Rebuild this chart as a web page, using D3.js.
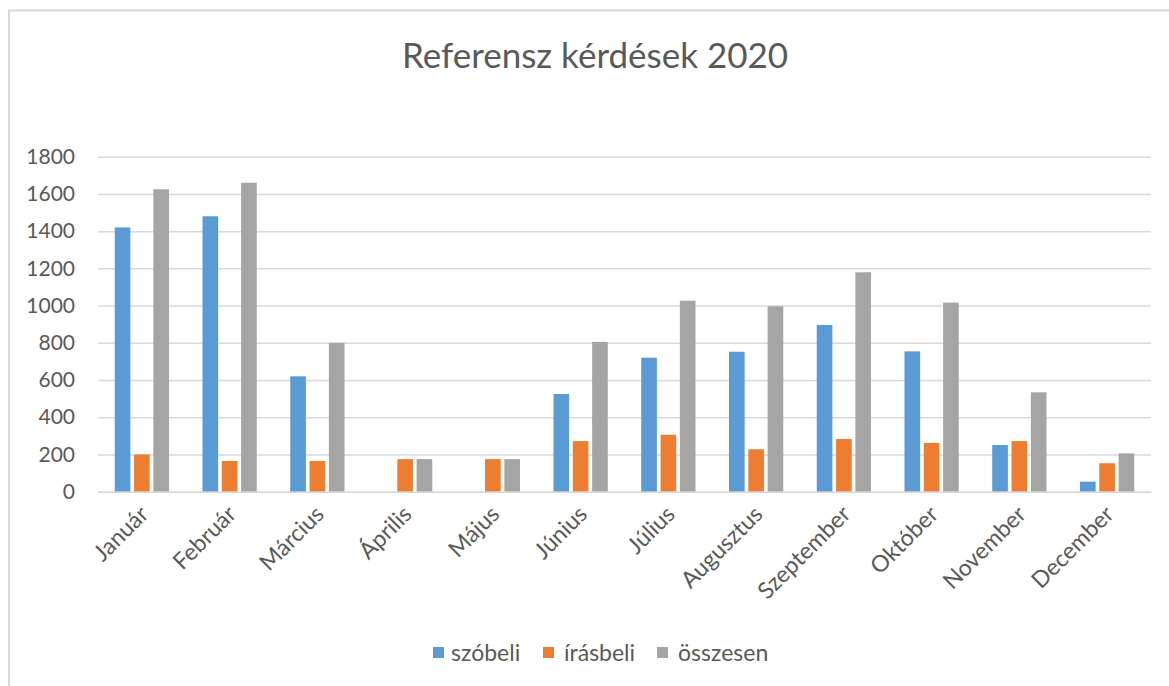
<!DOCTYPE html>
<html><head><meta charset="utf-8">
<script src="https://cdn.jsdelivr.net/npm/d3@7"></script>
<style>body{margin:0;background:#fff}svg{display:block}text{font-family:Lato,"Open Sans",sans-serif;fill:#595959}</style>
</head><body>
<svg id="c" width="1169" height="686"></svg>
<script>
const title = "Referensz kérdések 2020";
const months = ["Január","Február","Március","Április","Május","Június","Július","Augusztus","Szeptember","Október","November","December"];
const seriesNames = ["szóbeli","írásbeli","összesen"];
const szobeli   = [1420,1480,620,0,0,525,720,752,896,754,251,54];
const irasbeli  = [200,165,165,175,175,272,306,228,283,262,272,153];
const osszesen  = [1625,1660,800,175,175,805,1026,996,1179,1016,534,206];
const yTicks = [0,200,400,600,800,1000,1200,1400,1600,1800];
const colors = ["#5B9BD5","#ED7D31","#A5A5A5"];

const seriesVals = [szobeli, irasbeli, osszesen];
const svg = d3.select("#c");
svg.append("rect").attr("x",9).attr("y",10.5).attr("width",1200).attr("height",700)
  .attr("fill","none").attr("stroke","#D9D9D9").attr("stroke-width",2);

const L = 98, R = 1151, T = 156.7, B = 491.7;
const x0 = d3.scaleBand().domain(months).range([L,R]).paddingInner(0).paddingOuter(0);
const x1 = d3.scaleBand().domain(seriesNames).range([15, x0.bandwidth()-15]).paddingInner(0.19).paddingOuter(0.09);
const y = d3.scaleLinear().domain([0,1800]).range([B,T]);

svg.append("text").attr("x",595).attr("y",68).attr("text-anchor","middle")
  .style("font-size","35px").text(title);

const yAxis = d3.axisLeft(y).tickValues(yTicks).tickFormat(d3.format("d")).tickSize(-(R-L)).tickPadding(23);
const gy = svg.append("g").attr("transform",`translate(${L},0)`).call(yAxis);
gy.select(".domain").remove();
gy.selectAll(".tick line").attr("stroke","#D9D9D9").attr("stroke-width",1.5);
gy.selectAll(".tick text").style("font-size","21px").style("fill","#595959").attr("font-family","Lato");

const groups = svg.append("g").selectAll("g").data(months).join("g")
  .attr("transform", d => `translate(${x0(d)},0)`);
groups.selectAll("rect").data((m,i) => seriesNames.map((s,j)=>({s, v: seriesVals[j][i], j})))
  .join("rect")
  .attr("x", d => x1(d.s)).attr("width", x1.bandwidth())
  .attr("y", d => y(d.v)).attr("height", d => B - y(d.v))
  .attr("fill", d => colors[d.j]);

const xAxis = d3.axisBottom(x0).tickSize(0).tickPadding(0);
const gx = svg.append("g").attr("transform",`translate(0,${B})`).call(xAxis);
gx.select(".domain").attr("stroke","#D9D9D9").attr("stroke-width",1.5);
gx.selectAll(".tick text").style("font-size","23px").style("fill","#595959")
  .attr("text-anchor","end").attr("dy","0").attr("transform","translate(8,24) rotate(-45)");

const leg = svg.append("g");
const legX = [433, 543, 657];
seriesNames.forEach((s,i)=>{
  leg.append("rect").attr("x",legX[i]).attr("y",647).attr("width",11).attr("height",11).attr("fill",colors[i]);
  leg.append("text").attr("x",legX[i]+(i===0?18:21)).attr("y",661).style("font-size","23px").text(s);
});
</script>
</body></html>
